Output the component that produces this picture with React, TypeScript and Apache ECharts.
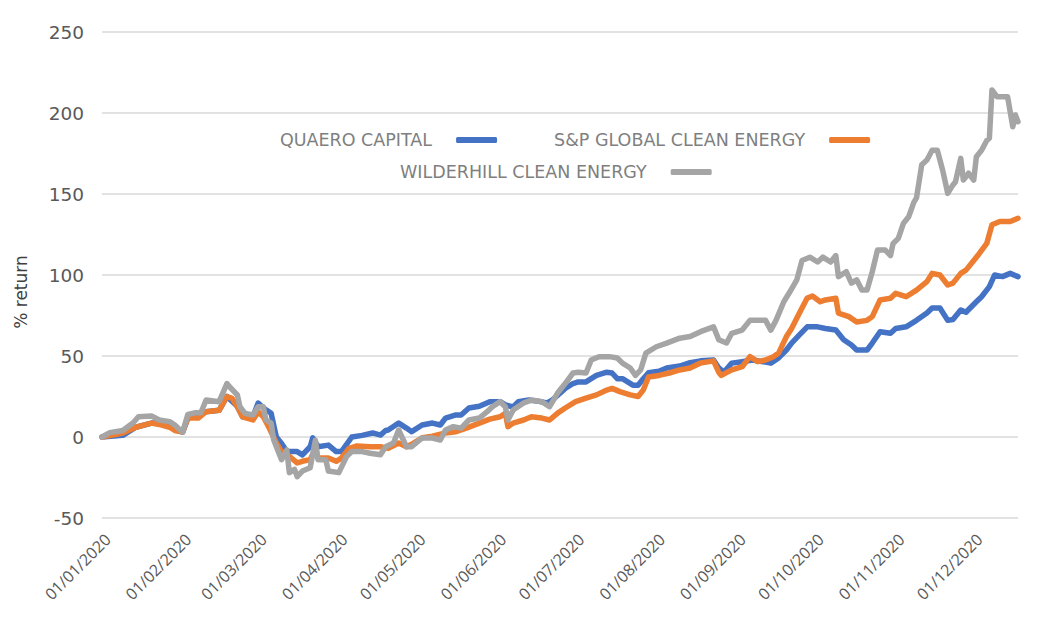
import React, { useEffect, useRef } from "react";
import * as echarts from "echarts";

// Series names (legend order)
const seriesNames = ["QUAERO CAPITAL", "S&P GLOBAL CLEAN ENERGY", "WILDERHILL CLEAN ENERGY"];
const seriesColors = ["#4472c4", "#ed7d31", "#a5a5a5"];

// X tick labels (month starts)
const monthTickLabels = [
  "01/01/2020", "01/02/2020", "01/03/2020", "01/04/2020", "01/05/2020", "01/06/2020",
  "01/07/2020", "01/08/2020", "01/09/2020", "01/10/2020", "01/11/2020", "01/12/2020",
];
const lastDay = 352; // days after 01/01/2020 (18/12/2020)

// Days after 01/01/2020 and % return
const quaeroDays = [0,8,13,19,23,28,31,33,40,45,48,52,54,58,60,62,65,67,69,71,75,77,80,81,83,87,90,92,96,100,104,107,109,110,114,117,119,123,127,130,132,136,138,141,145,149,153,155,158,160,164,168,171,173,176,178,181,183,186,190,194,196,198,200,202,204,206,208,210,214,217,222,226,230,235,237,239,242,246,250,254,257,260,263,265,268,271,275,278,282,285,288,290,294,296,299,303,305,309,313,317,319,322,325,327,330,332,336,338,341,343,346,349,352];
const quaeroValues = [0,1,6,8.6,8.6,5,3,11.7,15.6,16.5,25,19,12.5,12.5,21,17.9,14.6,0,-4,-9,-9,-11,-6,-0.5,-6,-5,-9,-9,0,1,2.5,1.2,4,4.3,8.6,5.5,3.3,7.4,8.6,7.4,11.7,13.6,13.6,17.9,19,21.8,21.8,19.8,18.5,21.8,22.8,22,21,22.8,27,30,33,34,34,38,40,39.5,36,36,34,32,32,36,39.7,40.6,42.6,43.8,45.9,47,47.5,42.6,40,45.6,46.5,47.5,46.5,45.6,48.8,53.7,58,63,68,68,67,66,60,56.8,53.7,53.7,58,65,64,67,68,72,76.5,79.6,79.6,72,72.5,78.4,77,83.5,86.6,92.8,100,99,101,99];

const spDays = [0,8,13,19,23,26,28,31,33,37,40,45,48,50,52,54,58,60,62,64,67,69,72,75,77,80,82,83,87,90,92,95,98,103,107,110,114,117,119,123,127,132,136,140,145,149,153,155,156,158,162,165,169,172,175,178,182,186,190,194,196,199,203,206,208,210,214,218,222,226,230,235,237,238,242,246,249,252,255,258,260,263,265,268,271,273,276,278,282,283,287,290,294,296,299,303,305,309,313,317,319,322,325,327,330,332,335,337,340,342,345,349,352];
const spValues = [0,2.5,6,8.6,7.4,6,4,3,11.7,11.7,15.6,16.5,24.9,23.8,18.7,12.5,10.5,15.6,12.5,6.4,-3.7,-9,-12,-16,-15,-14,-7,-13,-13,-15,-13,-7,-5.5,-6,-6,-7,-3.7,-6,-4.5,-0.5,0.5,2.5,3.3,5.5,8.6,11,12.5,14.6,6.4,8.6,10.5,12.5,11.7,10.5,14.6,17.9,21.8,24,26,29,30,28,26,25,29,37,38,39.5,41.4,42.6,45.7,47,40,38,41.4,43.4,49.6,46.5,47.5,49.6,51.8,62,67,76.5,85.8,87,83.5,84.6,85.6,76.5,74.3,71,72,74.3,84.6,85.6,88.7,86.6,90.7,95.9,101,100,93.8,95,101,103,109,113,119.5,131,133,133,135];

const whDays = [0,3,8,12,14,19,22,26,28,30,31,33,36,38,40,45,48,49,52,53,55,58,60,62,63,65,66,68,69,71,72,74,75,77,80,82,83,86,87,91,94,96,100,103,107,109,112,114,117,119,123,127,130,132,135,138,141,145,148,150,153,155,156,158,162,165,169,172,175,178,181,183,186,188,191,195,198,200,203,205,207,209,213,217,222,226,230,235,237,240,242,246,249,253,255,257,259,262,264,267,269,272,275,277,280,282,283,286,288,290,292,294,296,298,301,303,304,306,308,310,312,313,315,317,319,321,323,325,327,328,330,331,333,335,336,338,340,341,342,344,348,350,351,352];
const whValues = [0,2.7,4,8.8,12.5,13,10.5,9.5,7.4,4.3,3,14,15,15,22.8,21.8,33,31,26,18.7,14.6,13.6,18.7,18.7,10.5,8.6,-1.9,-10,-14,-8,-22,-20,-24.5,-21,-19,-2,-14,-14,-21,-22,-12,-9,-9,-10,-11,-6,-3.7,4.3,-6,-6,-0.6,-0.6,-1.9,4.3,6.4,5.5,10.5,11.7,15.6,18.7,21.8,18.7,10.5,16.7,21,22.8,21.8,18.7,27,33,39.5,40,39.5,47.5,49.6,49.6,48.8,45.6,42.6,38,41.4,51.8,55.7,58,61,62,65,68,60,58,64,66,72,72,72,66,72,83.5,88.7,97,109,111,108,111,108,112,99,102,95,97,90.7,90.7,102,115.4,115.4,112,119.5,122.6,132,136,145,147.6,168,171,177,177,165,150.4,155.6,157.6,172,158.6,162.8,158.6,173,177,183,184.4,214.2,210,210,191.5,198.8,194.6];

const yMin = -50;
const yMax = 250;
const yInterval = 50;

const dayToTime = (d: number) => new Date(2020, 0, 1 + d).getTime();
const parseLabel = (s: string) => {
  const [dd, mm, yy] = s.split("/").map(Number);
  return new Date(yy, mm - 1, dd).getTime();
};
const pad = (n: number) => (n < 10 ? "0" + n : "" + n);
const fmt = (v: number) => {
  const d = new Date(v);
  return pad(d.getDate()) + "/" + pad(d.getMonth() + 1) + "/" + d.getFullYear();
};
const zip = (days: number[], vals: number[]) => days.map((d, i) => [dayToTime(d), vals[i]]);

export default function App() {
  const ref = useRef<HTMLDivElement>(null);
  useEffect(() => {
    if (!ref.current) return;
    const chart = echarts.init(ref.current, undefined, { renderer: "svg" });
    const tickValues = monthTickLabels.map(parseLabel);
    const dataSets = [zip(quaeroDays, quaeroValues), zip(spDays, spValues), zip(whDays, whValues)];
    const legendText = { fontFamily: "DejaVu Sans", fontSize: 17.5, color: "#7f7f7f", padding: [0, 19, 0, 0] };
    chart.setOption({
      animation: false,
      backgroundColor: "#ffffff",
      grid: { left: 102, right: 22, top: 32, bottom: 112, containLabel: false },
      legend: [
        {
          data: [seriesNames[0], seriesNames[1]],
          left: 280,
          top: 131,
          padding: 0,
          align: "right",
          icon: "roundRect",
          itemWidth: 41,
          itemHeight: 6,
          itemGap: 57,
          textStyle: legendText,
        },
        {
          data: [seriesNames[2]],
          left: 400,
          top: 163,
          padding: 0,
          align: "right",
          icon: "roundRect",
          itemWidth: 41,
          itemHeight: 6,
          textStyle: legendText,
        },
      ],
      xAxis: {
        type: "value",
        min: dayToTime(0),
        max: dayToTime(lastDay),
        axisLine: { show: false },
        axisTick: { show: false },
        splitLine: { show: false },
        axisLabel: {
          customValues: tickValues,
          formatter: (v: number) => fmt(v),
          rotate: 45,
          margin: 13,
          verticalAlign: "top",
          fontFamily: "Open Sans",
          fontSize: 16,
          color: "#595959",
          hideOverlap: false,
          showMinLabel: true,
        },
      },
      yAxis: {
        type: "value",
        min: yMin,
        max: yMax,
        interval: yInterval,
        name: "% return",
        nameLocation: "middle",
        nameGap: 73,
        nameTextStyle: { fontFamily: "DejaVu Sans", fontSize: 17, color: "#404040", padding: [0, 34, 0, 0] },
        axisLine: { show: false },
        axisTick: { show: false },
        axisLabel: { fontFamily: "DejaVu Sans", fontSize: 18.5, color: "#595959", margin: 18 },
        splitLine: { lineStyle: { color: "#d9d9d9", width: 1.5 } },
      },
      series: seriesNames.map((name, i) => ({
        name,
        type: "line",
        data: dataSets[i],
        showSymbol: false,
        symbol: "none",
        color: seriesColors[i],
        lineStyle: { width: 5.5, color: seriesColors[i], cap: "round", join: "round" },
        z: 2 + i,
      })),
    });
    return () => chart.dispose();
  }, []);
  return (
    <div
      ref={ref}
      style={{ position: "fixed", left: 0, top: 0, width: 1040, height: 630, background: "#fff" }}
    />
  );
}
